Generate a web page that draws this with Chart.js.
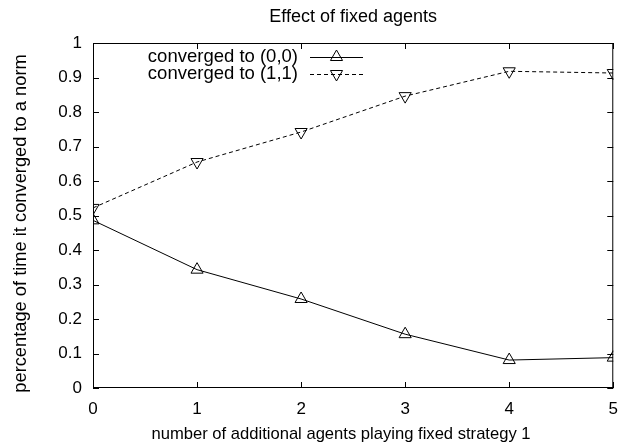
<!DOCTYPE html>
<html>
<head>
<meta charset="utf-8">
<script src="https://cdn.jsdelivr.net/npm/chart.js@4/dist/chart.umd.min.js"></script>
<style>
  html, body { margin: 0; padding: 0; background: #fff; }
  #wrap { width: 629px; height: 445px; }
</style>
</head>
<body>
<div id="wrap"><canvas id="chartFixed"></canvas></div>
<script>
// ===== data =====
const agents  = [0, 1, 2, 3, 4, 5];
const conv00  = [0.486, 0.343, 0.258, 0.156, 0.081, 0.088];
const conv11  = [0.522, 0.655, 0.742, 0.846, 0.918, 0.913];
const seriesNames = ['converged to (0,0)', 'converged to (1,1)'];
const xTicks = [0, 1, 2, 3, 4, 5];
const yTicks = [0, 0.1, 0.2, 0.3, 0.4, 0.5, 0.6, 0.7, 0.8, 0.9, 1];
const titleText = 'Effect of fixed agents';
const xLabel = 'number of additional agents playing fixed strategy 1';
const yLabel = 'percentage of time it converged to a norm';

const FONT = "'Liberation Sans', Arial, Helvetica, sans-serif";

// gnuplot-style frame with inward ticks on all four sides
const gnuFrame = {
  id: 'gnuFrame',
  beforeDatasetsDraw(chart) {
    const { ctx, chartArea: { left, top, right, bottom }, scales: { x, y } } = chart;
    const len = 6;
    ctx.save();
    ctx.strokeStyle = '#000';
    ctx.lineWidth = 1;
    ctx.strokeRect(left + 0.5, top + 0.5, right - left - 1, bottom - top - 1);
    ctx.beginPath();
    xTicks.forEach(v => {
      const px = Math.round(x.getPixelForValue(v)) + 0.5;
      ctx.moveTo(px, bottom); ctx.lineTo(px, bottom - len);
      ctx.moveTo(px, top);    ctx.lineTo(px, top + len);
    });
    yTicks.forEach(v => {
      const py = Math.round(y.getPixelForValue(v)) + 0.5;
      ctx.moveTo(left, py);  ctx.lineTo(left + len, py);
      ctx.moveTo(right, py); ctx.lineTo(right - len, py);
    });
    ctx.stroke();
    ctx.restore();
  }
};

// title + axis labels, placed like gnuplot does
const gnuLabels = {
  id: 'gnuLabels',
  afterDraw(chart) {
    const { ctx, chartArea: { left, right } } = chart;
    ctx.save();
    ctx.fillStyle = '#000';
    ctx.textAlign = 'center';
    ctx.textBaseline = 'middle';
    ctx.font = `18px ${FONT}`;
    ctx.fillText(titleText, (left + right) / 2, 17);
    ctx.font = `16.6px ${FONT}`;
    ctx.fillText(xLabel, 341, 434);
    ctx.translate(21, 223.5);
    ctx.rotate(-Math.PI / 2);
    ctx.font = `18.3px ${FONT}`;
    ctx.fillText(yLabel, 0, 0);
    ctx.restore();
  }
};

// legend: text right-aligned, then sample line with marker (gnuplot key)
const gnuKey = {
  id: 'gnuKey',
  afterDatasetsDraw(chart) {
    const { ctx } = chart;
    const textRight = 298, lineL = 310, lineR = 363, rowY = [57, 74];
    ctx.save();
    ctx.font = `18.5px ${FONT}`;
    ctx.fillStyle = '#000';
    ctx.textAlign = 'right';
    ctx.textBaseline = 'middle';
    chart.data.datasets.forEach((ds, i) => {
      const yy = rowY[i];
      ctx.fillText(ds.label, textRight, yy);
      ctx.strokeStyle = ds.borderColor;
      ctx.lineWidth = 1;
      ctx.setLineDash(ds.borderDash || []);
      ctx.beginPath();
      ctx.moveTo(lineL, yy + 0.5); ctx.lineTo(lineR, yy + 0.5);
      ctx.stroke();
      ctx.setLineDash([]);
      // marker
      const r = ds.pointRadius, cx = (lineL + lineR) / 2;
      const rot = (ds.pointRotation || 0) * Math.PI / 180;
      ctx.beginPath();
      for (let k = 0; k < 3; k++) {
        const a = rot + k * 2 * Math.PI / 3;
        const px = cx + Math.sin(a) * r, py = yy - Math.cos(a) * r;
        k === 0 ? ctx.moveTo(px, py) : ctx.lineTo(px, py);
      }
      ctx.closePath();
      ctx.stroke();
    });
    ctx.restore();
  }
};

(function() {
  const el = document.getElementById('chartFixed');
  new Chart(el, {
    type: 'line',
    data: {
      datasets: [
        {
          label: seriesNames[0],
          data: agents.map((a, i) => ({ x: a, y: conv00[i] })),
          borderColor: '#000', borderWidth: 1,
          pointStyle: 'triangle', pointRadius: 7,
          pointBorderColor: '#000', pointBackgroundColor: 'rgba(0,0,0,0)',
          pointBorderWidth: 1, tension: 0
        },
        {
          label: seriesNames[1],
          data: agents.map((a, i) => ({ x: a, y: conv11[i] })),
          borderColor: '#000', borderWidth: 1, borderDash: [4, 3],
          pointStyle: 'triangle', pointRotation: 180, pointRadius: 7,
          pointBorderColor: '#000', pointBackgroundColor: 'rgba(0,0,0,0)',
          pointBorderWidth: 1, tension: 0
        }
      ]
    },
    options: {
      responsive: true, maintainAspectRatio: false,
      animation: false,
      layout: { padding: { left: 0, right: 10, top: 43, bottom: 0 } },
      plugins: {
        legend: { display: false },
        tooltip: { enabled: false },
        title: { display: false }
      },
      scales: {
        x: {
          type: 'linear', min: 0, max: 5,
          afterBuildTicks: s => { s.ticks = xTicks.map(v => ({ value: v })); },
          afterFit: s => { s.height = 57; },
          grid: { display: false, drawTicks: false },
          border: { display: false },
          ticks: {
            color: '#000', padding: 11, maxRotation: 0,
            font: { family: FONT, size: 17 },
            callback: v => String(v)
          }
        },
        y: {
          type: 'linear', min: 0, max: 1,
          afterBuildTicks: s => { s.ticks = yTicks.map(v => ({ value: v })); },
          afterFit: s => { s.width = 93; },
          grid: { display: false, drawTicks: false },
          border: { display: false },
          ticks: {
            color: '#000', padding: 11,
            font: { family: FONT, size: 17 },
            callback: v => String(+v.toFixed(1))
          }
        }
      }
    },
    plugins: [gnuFrame, gnuKey, gnuLabels]
  });
})();
</script>
</body>
</html>
